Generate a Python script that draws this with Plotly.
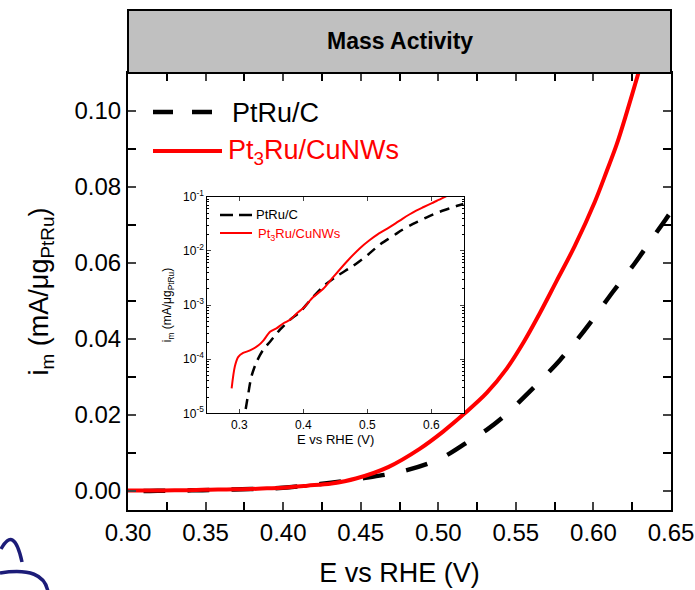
import plotly.graph_objects as go

# ---------------- data ----------------
E_ptru_c = [0.310, 0.314, 0.319, 0.327, 0.3375, 0.348, 0.3635, 0.379, 0.395, 0.410,
            0.431, 0.452, 0.477, 0.501, 0.5193, 0.5312, 0.5441, 0.5548, 0.5677, 0.5785,
            0.5892, 0.5978, 0.6127, 0.6268, 0.6354, 0.6461, 0.650]
i_ptru_c = [1.2e-5, 2.3e-5, 4.8e-5, 8.9e-5, 1.5e-4, 2.1e-4, 3.5e-4, 5.3e-4, 7.5e-4, 1.2e-3,
            2.2e-3, 3.4e-3, 5.2e-3, 8.5e-3, 0.0130, 0.0161, 0.0203, 0.0245, 0.0298, 0.0345,
            0.0397, 0.0442, 0.0525, 0.0600, 0.0650, 0.0712, 0.0735]

E_pt3ru = [0.288, 0.293, 0.2984, 0.306, 0.3167, 0.330, 0.3375, 0.348, 0.358, 0.369, 0.379,
           0.3896, 0.400, 0.4156, 0.4312, 0.4469, 0.4677, 0.488, 0.5033, 0.5161, 0.5312,
           0.5441, 0.5548, 0.5656, 0.5763, 0.588, 0.601, 0.6086, 0.615, 0.6214, 0.629, 0.634]
i_pt3ru = [2.9e-5, 7.3e-5, 1.1e-4, 1.3e-4, 1.45e-4, 1.8e-4, 2.2e-4, 3.2e-4, 3.7e-4, 4.6e-4, 5.3e-4,
           7.0e-4, 8.8e-4, 1.4e-3, 2.0e-3, 3.3e-3, 6.3e-3, 0.0111, 0.0157, 0.0201, 0.0258,
           0.0322, 0.0390, 0.0469, 0.0553, 0.0645, 0.0762, 0.0842, 0.0912, 0.0995, 0.1100, 0.1170]

series_names = ["PtRu/C", "Pt<sub>3</sub>Ru/CuNWs"]
main_xticks = [0.30, 0.35, 0.40, 0.45, 0.50, 0.55, 0.60, 0.65]
main_xticklabels = ["0.30", "0.35", "0.40", "0.45", "0.50", "0.55", "0.60", "0.65"]
main_yticks = [0.00, 0.02, 0.04, 0.06, 0.08, 0.10]
main_yticklabels = ["0.00", "0.02", "0.04", "0.06", "0.08", "0.10"]
inset_xticks = [0.3, 0.4, 0.5, 0.6]
inset_xticklabels = ["0.3", "0.4", "0.5", "0.6"]
inset_yticks = [1e-5, 1e-4, 1e-3, 1e-2, 1e-1]
inset_yticklabels = ["10<sup>-5</sup>", "10<sup>-4</sup>", "10<sup>-3</sup>",
                     "10<sup>-2</sup>", "10<sup>-1</sup>"]

FONT = "Liberation Sans, Arial, sans-serif"
BLACK = "#000000"
RED = "#ff0000"

fig = go.Figure()

# main plot
fig.add_trace(go.Scatter(x=E_ptru_c, y=i_ptru_c, mode="lines", name=series_names[0],
                         line=dict(color=BLACK, width=4.5, dash="22px,22px", shape="spline",
                                   smoothing=1.0),
                         xaxis="x", yaxis="y", showlegend=False))
fig.add_trace(go.Scatter(x=E_pt3ru, y=i_pt3ru, mode="lines", name=series_names[1],
                         line=dict(color=RED, width=4, shape="spline", smoothing=1.0),
                         xaxis="x", yaxis="y", showlegend=False))
# inset
fig.add_trace(go.Scatter(x=E_ptru_c, y=i_ptru_c, mode="lines", name=series_names[0],
                         line=dict(color=BLACK, width=2.5, dash="10px,7px", shape="spline",
                                   smoothing=0.8),
                         xaxis="x2", yaxis="y2", showlegend=False))
fig.add_trace(go.Scatter(x=E_pt3ru, y=i_pt3ru, mode="lines", name=series_names[1],
                         line=dict(color=RED, width=2, shape="spline", smoothing=0.8),
                         xaxis="x2", yaxis="y2", showlegend=False))

W, H = 695, 590
L, R, T, B = 128, 24, 73, 80
pw, ph = W - L - R, H - T - B

def px(x):
    return (x - L) / pw

def py(y):
    return (H - B - y) / ph

axis_common = dict(showline=True, linecolor=BLACK, mirror="allticks", ticks="inside",
                   showgrid=False, zeroline=False, automargin=False)

fig.update_layout(
    width=W, height=H,
    margin=dict(l=L, r=R, t=T, b=B, pad=0, autoexpand=False),
    paper_bgcolor="white", plot_bgcolor="white",
    font=dict(family=FONT, color=BLACK),
    xaxis=dict(**axis_common, domain=[0, 1], range=[0.30, 0.65],
               tickvals=main_xticks, ticktext=main_xticklabels,
               linewidth=2, tickwidth=2, ticklen=8, tickfont=dict(size=24),
               minor=dict(dtick=0.025, ticks="inside", ticklen=8, tickwidth=2, tickcolor=BLACK),
               title=dict(text="E vs RHE (V)", font=dict(size=27), standoff=18)),
    yaxis=dict(**axis_common, domain=[0, 1], range=[-0.005, 0.11],
               tickvals=main_yticks, ticktext=main_yticklabels,
               linewidth=2, tickwidth=2, ticklen=8, tickfont=dict(size=24),
               minor=dict(dtick=0.01, ticks="inside", ticklen=8, tickwidth=2, tickcolor=BLACK),
               title=dict(text="i<sub>m</sub> (mA/μg<sub>PtRu</sub>)", font=dict(size=27),
                          standoff=18)),
    xaxis2=dict(**axis_common, domain=[px(207.3), px(464)], range=[0.25, 0.651],
                anchor="y2", tickvals=inset_xticks, ticktext=inset_xticklabels,
                linewidth=1, tickwidth=1, ticklen=4, tickfont=dict(size=12),
                title=dict(text="E vs RHE (V)", font=dict(size=13), standoff=4)),
    yaxis2=dict(**axis_common, domain=[py(413.3), py(196.7)], type="log", range=[-5, -1],
                anchor="x2", tickvals=inset_yticks, ticktext=inset_yticklabels,
                linewidth=1, tickwidth=1, ticklen=4, tickfont=dict(size=12),
                minor=dict(dtick="D1", ticks="inside", ticklen=2, tickwidth=1, tickcolor=BLACK),
                title=dict(text="i<sub>m</sub> (mA/μg<sub>PtRu</sub>)", font=dict(size=12),
                           standoff=8)),
)

shapes = []
# header bar
shapes.append(dict(type="rect", xref="paper", yref="paper", x0=0, x1=1, y0=1, y1=py(10),
                   fillcolor="#c0c0c0", line=dict(color=BLACK, width=2), layer="above"))
# main legend samples
shapes.append(dict(type="line", xref="paper", yref="paper", x0=px(153), x1=px(212),
                   y0=py(112), y1=py(112), line=dict(color=BLACK, width=4.5, dash="20px,19px")))
shapes.append(dict(type="line", xref="paper", yref="paper", x0=px(153), x1=px(222),
                   y0=py(151), y1=py(151), line=dict(color=RED, width=4)))
# inset legend samples
shapes.append(dict(type="line", xref="paper", yref="paper", x0=px(220), x1=px(252),
                   y0=py(215), y1=py(215), line=dict(color=BLACK, width=2.5, dash="13px,6px")))
shapes.append(dict(type="line", xref="paper", yref="paper", x0=px(220), x1=px(252),
                   y0=py(233), y1=py(233), line=dict(color=RED, width=2)))
# fragment of a logo at bottom-left
shapes.append(dict(type="path", xref="paper", yref="paper",
                   path=f"M {px(1)},{py(549)} Q {px(14)},{py(525)} {px(22)},{py(562)}",
                   line=dict(color="#1c1c78", width=3.5)))
shapes.append(dict(type="path", xref="paper", yref="paper",
                   path=f"M {px(0)},{py(573)} Q {px(44)},{py(566)} {px(48)},{py(592)}",
                   line=dict(color="#1c1c78", width=3.5)))
fig.update_layout(shapes=shapes)

annotations = [
    dict(text="<b>Mass Activity</b>", xref="paper", yref="paper", x=0.5, y=py(41),
         showarrow=False, font=dict(size=23, color=BLACK), xanchor="center", yanchor="middle"),
    dict(text=series_names[0], xref="paper", yref="paper", x=px(230), y=py(113),
         showarrow=False, font=dict(size=27, color=BLACK), xanchor="left", yanchor="middle"),
    dict(text=series_names[1], xref="paper", yref="paper", x=px(226), y=py(152),
         showarrow=False, font=dict(size=27, color=RED), xanchor="left", yanchor="middle"),
    dict(text=series_names[0], xref="paper", yref="paper", x=px(254), y=py(215),
         showarrow=False, font=dict(size=13, color=BLACK), xanchor="left", yanchor="middle"),
    dict(text=series_names[1], xref="paper", yref="paper", x=px(256), y=py(234),
         showarrow=False, font=dict(size=13, color=RED), xanchor="left", yanchor="middle"),
]
fig.update_layout(annotations=annotations)

fig.write_html("out.html")
